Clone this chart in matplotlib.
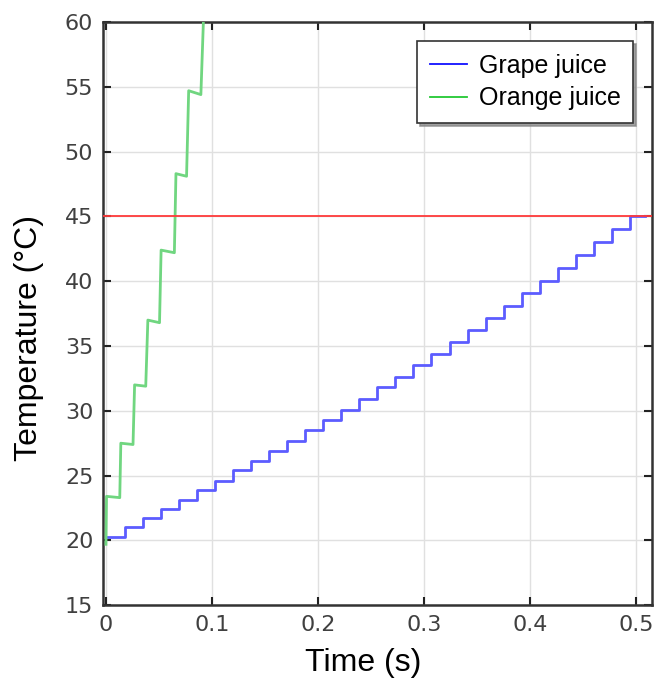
import matplotlib
matplotlib.use("Agg")
import matplotlib.pyplot as plt
from matplotlib.lines import Line2D

# Grape juice: start time of each temperature plateau (s) and plateau temperature (°C)
grape_t = [0.000, 0.018, 0.035, 0.052, 0.069, 0.086, 0.103, 0.120, 0.137, 0.154,
           0.171, 0.188, 0.205, 0.222, 0.239, 0.256, 0.273, 0.290, 0.307, 0.324,
           0.341, 0.358, 0.375, 0.392, 0.409, 0.426, 0.443, 0.460, 0.477, 0.494]
grape_T = [20.3, 21.0, 21.7, 22.4, 23.1, 23.9, 24.6, 25.4, 26.1, 26.9,
           27.7, 28.5, 29.3, 30.1, 30.9, 31.8, 32.6, 33.5, 34.4, 35.3,
           36.2, 37.2, 38.1, 39.1, 40.0, 41.0, 42.0, 43.0, 44.0, 45.0]
grape_t_end = 0.508

# Orange juice: sampled trace (s, °C)
orange_t = [0.0000, 0.0005, 0.0130, 0.0140, 0.0255, 0.0270, 0.0375, 0.0395,
            0.0505, 0.0520, 0.0645, 0.0660, 0.0760, 0.0780, 0.0895, 0.0925]
orange_T = [19.7, 23.4, 23.3, 27.5, 27.4, 32.0, 31.9, 37.0,
            36.8, 42.4, 42.2, 48.3, 48.1, 54.7, 54.4, 61.5]

limit_T = 45.0

x_ticks = [0, 0.1, 0.2, 0.3, 0.4, 0.5]
x_tick_labels = ["0", "0.1", "0.2", "0.3", "0.4", "0.5"]
y_ticks = [15, 20, 25, 30, 35, 40, 45, 50, 55, 60]

plt.rcParams["font.family"] = ["DejaVu Sans"]

fig = plt.figure(figsize=(6.54, 6.80), dpi=100)
ax = fig.add_axes([0.1575, 0.110, 0.8395, 0.8576])

ax.grid(True, color="#e0e0e0", linewidth=1.0, zorder=0)
ax.set_axisbelow(True)

ax.step(grape_t + [grape_t_end], grape_T + [grape_T[-1]], where="post",
        color="#5c5cff", linewidth=2.0, zorder=3)
ax.plot(orange_t, orange_T, color="#70d680", linewidth=2.0, zorder=3)
ax.axhline(limit_T, color="#ff3a3a", linewidth=1.3, zorder=4)

ax.set_xlim(-0.0028, 0.515)
ax.set_ylim(15, 60)
ax.set_xticks(x_ticks)
ax.set_xticklabels(x_tick_labels)
ax.set_yticks(y_ticks)

ax.tick_params(direction="in", top=True, right=True, length=6, width=1.5,
               labelsize=16, labelcolor="#404040", color="#222222", pad=7)
for s in ax.spines.values():
    s.set_linewidth(1.8)
    s.set_color("#333333")

ax.set_xlabel("Time (s)", fontsize=23, family=["Liberation Sans"])
ax.set_ylabel("Temperature (°C)", fontsize=23, family=["Liberation Sans"])
ax.xaxis.set_label_coords(0.473, -0.074)
ax.yaxis.set_label_coords(-0.108, 0.458)

handles = [Line2D([], [], color="#1010ff", linewidth=1.3),
           Line2D([], [], color="#22c833", linewidth=1.3)]
leg = ax.legend(handles, ["Grape juice", "Orange juice"], loc="upper right",
                bbox_to_anchor=(0.9654, 0.9674), borderaxespad=0,
                frameon=True, fancybox=False, shadow={"color": "#888888", "alpha": 0.8},
                edgecolor="#333333", handlelength=1.5, handletextpad=0.45,
                borderpad=0.5, labelspacing=0.35,
                prop={"family": ["Liberation Sans"], "size": 18})
leg.get_frame().set_linewidth(1.2)

fig.savefig("out.png", dpi=100)
